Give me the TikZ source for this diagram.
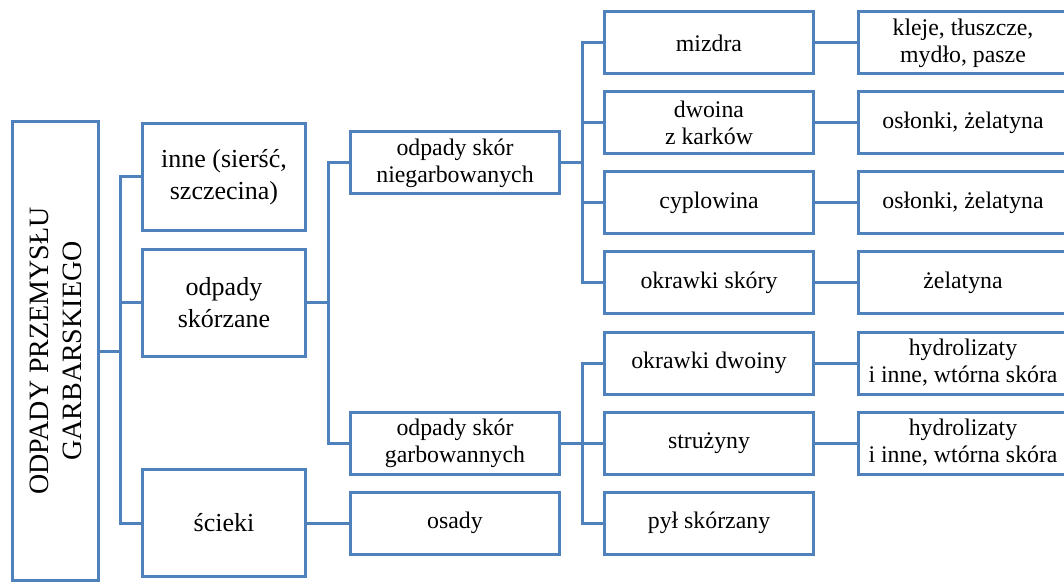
\documentclass[tikz,border=0pt]{standalone}
\usepackage{fontspec}
\setmainfont{Liberation Serif}
\usetikzlibrary{positioning, calc}
\definecolor{boxblue}{HTML}{4F81BD}

\begin{document}
\begin{tikzpicture}[
	x=1pt, y=1pt,
	basebox/.style={rectangle, draw=boxblue, line width=3pt, align=center, inner sep=2pt},
	rootbox/.style={basebox, rotate=90, minimum width=459pt, minimum height=86pt, font=\fontsize{28}{33}\selectfont},
	groupbox/.style={basebox, minimum width=163pt, minimum height=107pt, font=\fontsize{26}{32}\selectfont},
	wastebox/.style={basebox, minimum width=209pt, minimum height=62pt, font=\fontsize{23.8}{27}\selectfont},
	link/.style={draw=boxblue, line width=3pt}
	]
	\useasboundingbox (0,0) rectangle (1064,584);
	\clip (0,0) rectangle (1064,584);
	% third column: kinds of waste
	\node[wastebox] at (709,541) (mizdra) {mizdra};
	\node[wastebox, below=15pt of mizdra] (dwoina) {dwoina\\z karków};
	\node[wastebox, below=15pt of dwoina] (cyplowina) {cyplowina};
	\node[wastebox, below=15pt of cyplowina] (okrskory) {okrawki skóry};
	\node[wastebox, below=15pt of okrskory] (okrdwoiny) {okrawki dwoiny};
	\node[wastebox, below=15pt of okrdwoiny] (struzyny) {strużyny};
	\node[wastebox, below=15pt of struzyny] (pyl) {pył skórzany};
	% fourth column: products
	\node[wastebox, right=42pt of mizdra] (kleje) {kleje, tłuszcze,\\mydło, pasze};
	\node[wastebox, right=42pt of dwoina] (oslonkiA) {osłonki, żelatyna};
	\node[wastebox, right=42pt of cyplowina] (oslonkiB) {osłonki, żelatyna};
	\node[wastebox, right=42pt of okrskory] (zelatyna) {żelatyna};
	\node[wastebox, right=42pt of okrdwoiny] (hydroA) {hydrolizaty\\i inne, wtórna skóra};
	\node[wastebox, right=42pt of struzyny] (hydroB) {hydrolizaty\\i inne, wtórna skóra};
	% second column
	\node[wastebox, anchor=east] at ($(dwoina.west)!.5!(cyplowina.west)+(-42pt,0)$) (niegarb) {odpady skór\\niegarbowanych};
	\node[wastebox, left=42pt of struzyny] (garb) {odpady skór\\garbowannych};
	\node[wastebox, left=42pt of pyl] (osady) {osady};
	% first column
	\node[groupbox, anchor=east] at ($(niegarb.west)!.5!(garb.west)+(-42pt,0)$) (skorzane) {odpady\\skórzane};
	\node[groupbox, above=16pt of skorzane] (inne) {inne (sierść,\\szczecina)};
	\node[groupbox, left=42pt of osady] (scieki) {ścieki};
	\node[rootbox] at (55.5,233) (root) {ODPADY PRZEMYSŁU\\GARBARSKIEGO};
	% connectors
	\draw[link] (root.south) -- ++(21pt,0);
	\draw[link] (inne.west) -- ++(-21pt,0) |- (scieki.west);
	\draw[link] (skorzane.west) -- ++(-21pt,0);
	\draw[link] (skorzane.east) -- ++(21pt,0);
	\draw[link] (niegarb.west) -- ++(-21pt,0) |- (garb.west);
	\draw[link] (scieki.east) -- (osady.west);
	\draw[link] (niegarb.east) -- ++(21pt,0);
	\draw[link] (mizdra.west) -- ++(-21pt,0) |- (okrskory.west);
	\foreach \n in {dwoina, cyplowina}
		\draw[link] (\n.west) -- ++(-21pt,0);
	\draw[link] (garb.east) -- (struzyny.west);
	\draw[link] (okrdwoiny.west) -- ++(-21pt,0) |- (pyl.west);
	\foreach \a/\b in {mizdra/kleje, dwoina/oslonkiA, cyplowina/oslonkiB, okrskory/zelatyna, okrdwoiny/hydroA, struzyny/hydroB}
		\draw[link] (\a.east) -- (\b.west);
\end{tikzpicture}
\end{document}
